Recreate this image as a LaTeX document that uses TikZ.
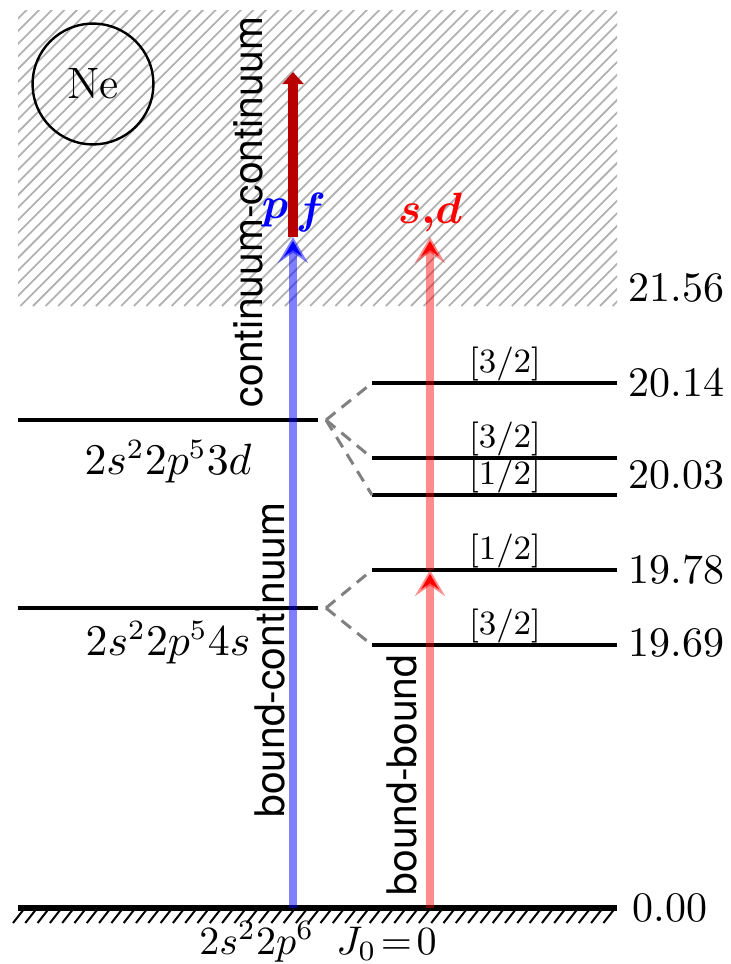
\documentclass[tikz,border=0pt]{standalone}
\usepackage{fontspec}
\usepackage{bm}
\newfontfamily\heros{TeX Gyre Heros}
\usetikzlibrary{arrows.meta}
\definecolor{hatchgray}{gray}{0.7}
\begin{document}
\begin{tikzpicture}[x=0.25pt,y=-0.25pt,
  lvl/.style={line width=0.9pt},
  conn/.style={gray, line width=0.75pt, dash pattern=on 3pt off 2pt},
  num/.style={anchor=west, font=\fontsize{10.5}{12}\selectfont, inner sep=0pt},
  jlab/.style={anchor=south, font=\fontsize{8.5}{10}\selectfont, inner sep=0.3pt},
  cfg/.style={font=\fontsize{10.5}{12}\selectfont, inner sep=0pt},
  vlab/.style={rotate=90, font=\heros\fontsize{10.2}{12}\selectfont, inner sep=0pt},
  bluearr/.style={blue, draw opacity=0.5, line width=1.8pt, -{Stealth[length=6.5pt,width=7.5pt,inset=2.6pt]}},
  redarr/.style={red, draw opacity=0.45, line width=1.8pt, -{Stealth[length=6.5pt,width=7.5pt,inset=2.6pt]}},
  contarr/.style={red!72!black, line width=2.5pt, -{Triangle[length=3pt,width=5.2pt]}},
  wavelab/.style={font=\fontsize{10.5}{12}\selectfont, inner sep=0pt}]
\useasboundingbox (0,0) rectangle (730,964);
% continuum hatch
\begin{scope}
  \clip (18,10) rectangle (617,306);
  \foreach \i in {0,...,76}
    \draw[hatchgray, line width=0.45pt] ({18-300+12.6*\i},306) -- ++(300,-300);
\end{scope}
% Ne circle
\node[draw, circle, minimum size=30.2pt, line width=0.6pt, inner sep=0pt,
      font=\fontsize{11}{13}\selectfont] (ne) at (93,84) {Ne};
% ground state
\coordinate (g0) at (18,908);
\coordinate (g1) at (617,908);
\draw[line width=1.3pt] (g0) -- (g1);
\foreach \i in {0,...,48}
  \draw[line width=0.5pt] ({13+12.3*\i},923) -- ++(11,-14);
% left configuration levels
\coordinate (d0) at (18,420);  \coordinate (d1) at (318,420);
\coordinate (s0) at (18,608);  \coordinate (s1) at (318,608);
\draw[lvl] (d0) -- (d1);
\draw[lvl] (s0) -- (s1);
% right fine-structure levels
\coordinate (a0) at (372,383); \coordinate (a1) at (617,383);
\coordinate (b0) at (372,458); \coordinate (b1) at (617,458);
\coordinate (c0) at (372,495); \coordinate (c1) at (617,495);
\coordinate (e0) at (372,570); \coordinate (e1) at (617,570);
\coordinate (h0) at (372,645); \coordinate (h1) at (617,645);
\draw[lvl] (a0) -- (a1);
\draw[lvl] (b0) -- (b1);
\draw[lvl] (c0) -- (c1);
\draw[lvl] (e0) -- (e1);
\draw[lvl] (h0) -- (h1);
% dashed connectors
\draw[conn] ([xshift=2pt]d1) -- (a0);
\draw[conn] ([xshift=2pt]d1) -- (b0);
\draw[conn] ([xshift=2pt]d1) -- (c0);
\draw[conn] ([xshift=2pt]s1) -- (e0);
\draw[conn] ([xshift=2pt]s1) -- (h0);
% J labels
\node[jlab] (ja) at (505,383) {[3/2]};
\node[jlab] (jb) at (505,458) {[3/2]};
\node[jlab] (jc) at (505,495) {[1/2]};
\node[jlab] (je) at (505,570) {[1/2]};
\node[jlab] (jh) at (505,645) {[3/2]};
% energies
\node[num] (n1) at (628,288) {21.56};
\node[num] (n2) at (628,383) {20.14};
\node[num] (n3) at (628,475) {20.03};
\node[num] (n4) at (628,570) {19.78};
\node[num] (n5) at (628,643) {19.69};
\node[num] (n6) at (632,908) {0.00};
% configuration labels
\node[cfg] (l3d) at (168,462) {$2s^2 2p^5 3d$};
\node[cfg] (l4s) at (168,643) {$2s^2 2p^5 4s$};
\node[cfg, font=\fontsize{10}{12}\selectfont] (lgs) at (318,942) {$2s^2 2p^6\;\; J_0\!=\!0$};
% transitions
\coordinate (bcb) at (293,908);
\coordinate (bct) at (293,237);
\coordinate (cct) at (293,72);
\coordinate (bbb) at (430,908);
\coordinate (bbm) at (430,570);
\coordinate (bbt) at (430,237);
\draw[bluearr] (bcb) -- (bct);
\draw[contarr] (bct) -- (cct);
\draw[redarr] (bbb) -- (bbm);
\draw[redarr] (bbm) -- (bbt);
% partial wave labels
\node[wavelab, text=blue] (wp) at (275,213) {$\bm{p}$};
\node[wavelab, text=blue] (wf) at (311,213) {$\bm{f}$};
\node[wavelab, text=red] (wsd) at (430,213) {$\bm{s{,}d}$};
% rotated labels
\node[vlab] (cc) at (248,212) {continuum-continuum};
\node[vlab] (bc) at (270,660) {bound-continuum};
\node[vlab] (bb) at (402,775) {bound-bound};
\end{tikzpicture}
\end{document}
